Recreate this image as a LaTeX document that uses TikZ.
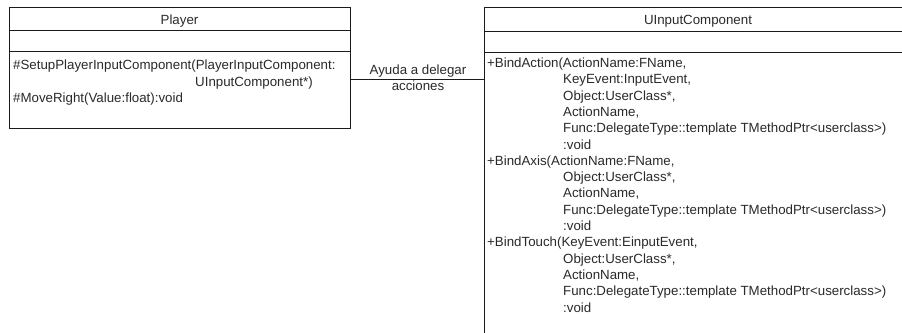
\documentclass[tikz,border=0pt]{standalone}
\usepackage{fontspec}
\setmainfont{Liberation Sans}
\definecolor{ink}{HTML}{2A2A2A}
\definecolor{edge}{HTML}{1A1A1A}
\begin{document}
\begin{tikzpicture}[x=1pt,y=-1pt,
  classbox/.style={draw=edge, line width=0.9pt, inner sep=0pt, anchor=north west},
  rule/.style={draw=edge, line width=0.9pt},
  txt/.style={inner sep=0pt, anchor=base west, text=ink, font=\fontsize{13.3}{16}\selectfont},
  ctxt/.style={txt, anchor=base},
  link/.style={draw=edge, line width=0.9pt}]
\useasboundingbox (0,0) rectangle (902,332);
\clip (0,0) rectangle (902,332);
\fill[white] (0,0) rectangle (902,332);

% class Player
\node[classbox, minimum width=341pt, minimum height=121pt] (player) at (9,7) {};
\draw[rule] (9,30) -- (350,30);
\draw[rule] (9,51) -- (350,51);
\node[ctxt] (pname) at (179.5,24) {Player};
\node[txt] (pm1) at (13,69.5) {\#SetupPlayerInputComponent(PlayerInputComponent:};
\node[txt] (pm1b) at (195,86.5) {UInputComponent*)};
\node[txt] (pm2) at (13,102.5) {\#MoveRight(Value:float):void};

% class UInputComponent
\node[classbox, minimum width=428pt, minimum height=360pt] (uic) at (484,7) {};
\draw[rule] (484,31) -- (912,31);
\draw[rule] (484,52) -- (912,52);
\node[ctxt] (uname) at (698,24) {UInputComponent};

\foreach \i/\x/\t in {
  0/487/{+BindAction(ActionName:FName,},
  1/563/{KeyEvent:InputEvent,},
  2/563/{Object:UserClass*,},
  3/563/{ActionName,},
  4/563/{Func:DelegateType::template TMethodPtr<userclass>)},
  5/563/{:void},
  6/487/{+BindAxis(ActionName:FName,},
  7/563/{Object:UserClass*,},
  8/563/{ActionName,},
  9/563/{Func:DelegateType::template TMethodPtr<userclass>)},
  10/563/{:void},
  11/487/{+BindTouch(KeyEvent:EinputEvent,},
  12/563/{Object:UserClass*,},
  13/563/{ActionName,},
  14/563/{Func:DelegateType::template TMethodPtr<userclass>)},
  15/563/{:void}}
  \node[txt] (um\i) at (\x,{67.5+16.3*\i}) {\t};

% association
\coordinate (lvl) at (0,79);
\draw[link] (player.east |- lvl) -- (uic.west |- lvl);
\node[ctxt] (lab1) at (418,74.5) {Ayuda a delegar};
\node[ctxt] (lab2) at (418,90.5) {acciones};
\end{tikzpicture}
\end{document}
